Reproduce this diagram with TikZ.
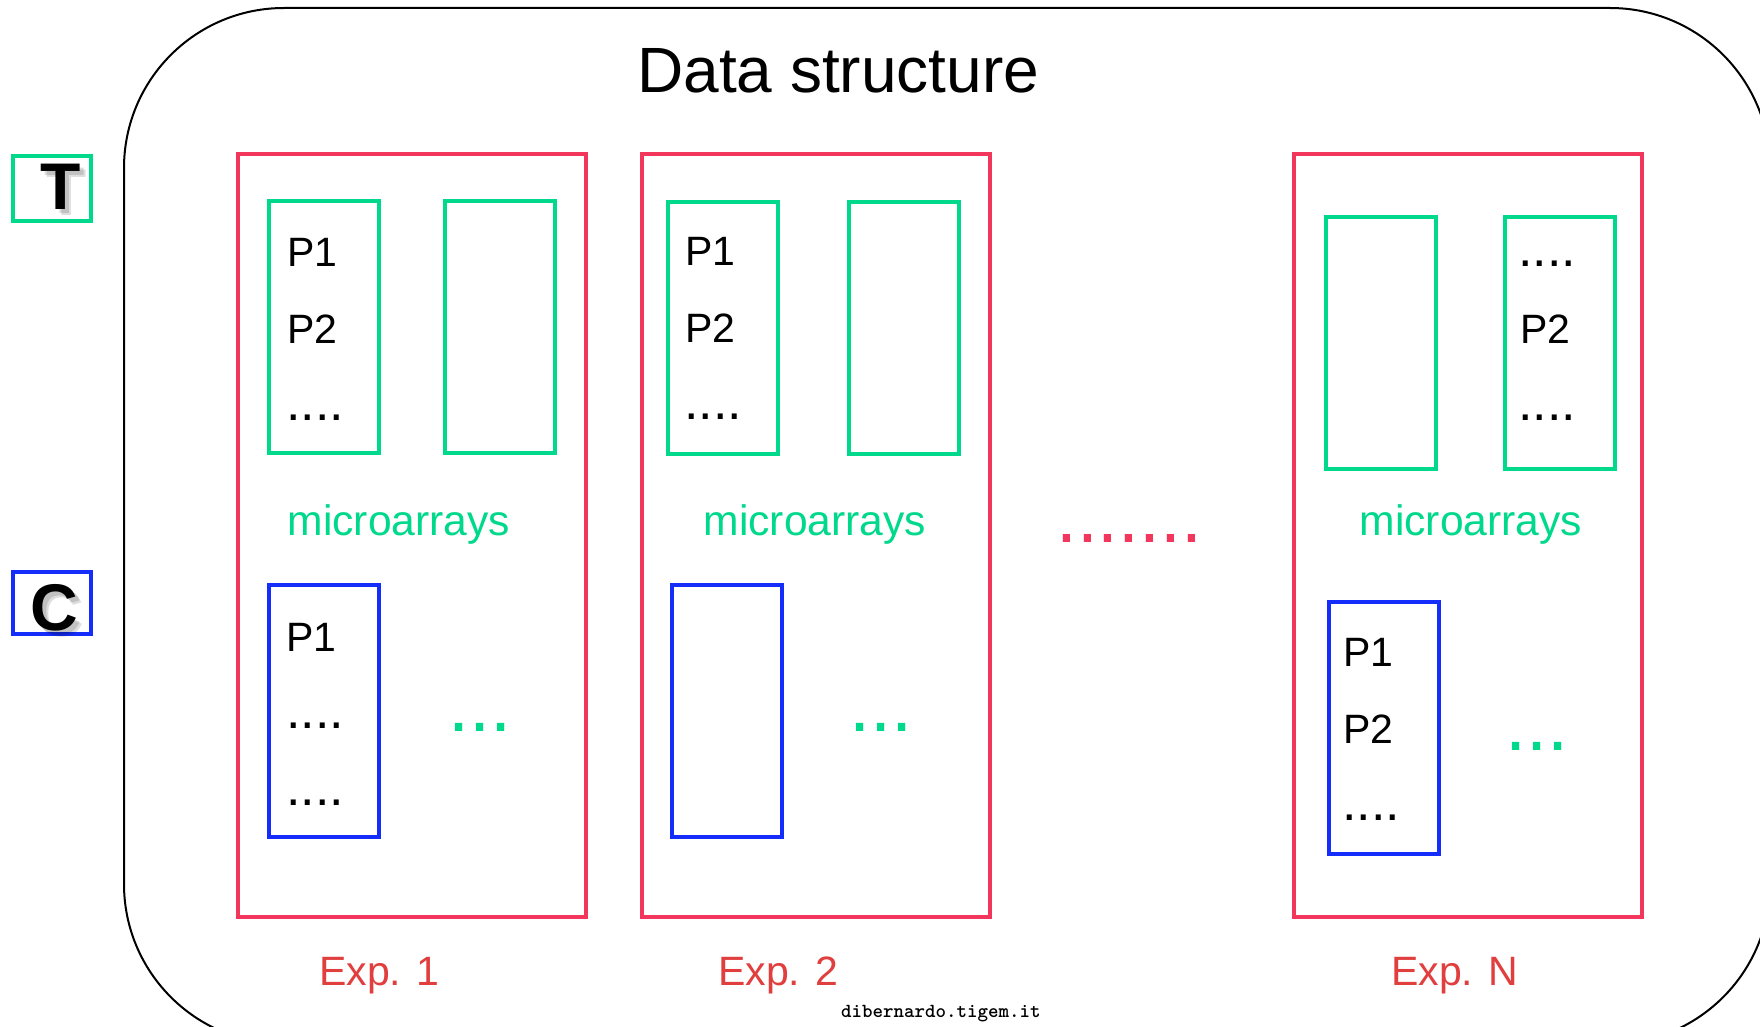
\documentclass[tikz,border=0pt]{standalone}
\usepackage{fontspec}
\setmainfont{Liberation Sans}
\definecolor{mygreen}{RGB}{0,217,139}
\definecolor{myred}{RGB}{242,54,92}
\definecolor{myblue}{RGB}{20,45,250}
\definecolor{expred}{RGB}{225,62,62}
\newcommand{\fsz}[1]{\fontsize{#1}{#1}\selectfont}
\tikzset{
  expbox/.style={draw=myred, line width=4pt, minimum width=348pt, minimum height=763pt, inner sep=0pt},
  tbox/.style={draw=mygreen, line width=4pt, minimum width=110pt, minimum height=252pt, inner sep=0pt},
  cbox/.style={draw=myblue, line width=4pt, minimum width=110pt, minimum height=252pt, inner sep=0pt},
  ptxt/.style={anchor=base west, inner sep=0pt, font=\fsz{41}},
  dtxt/.style={anchor=base west, inner sep=0pt, font=\fsz{52}},
  mtxt/.style={anchor=base west, inner sep=0pt, text=mygreen, font=\fsz{42.6}},
  gdots/.style={anchor=base west, inner sep=0pt, text=mygreen, font=\fsz{76}},
  exptxt/.style={anchor=base west, inner sep=0pt, text=expred, font=\fsz{41}},
  big/.style={anchor=base, inner sep=0pt, font=\bfseries\fsz{66}},
  shadow/.style={big, text=black, opacity=0.13},
}
\begin{document}
\begin{tikzpicture}[x=1pt,y=-1pt]
\path[use as bounding box, clip] (0,0) rectangle (1760,1027);
\fill[white] (0,0) rectangle (1760,1027);
% outer rounded frame
\draw[line width=2pt, rounded corners=160pt] (124,8) rectangle (1770,1044);
% title
\node[anchor=base west, inner sep=0pt, font=\fsz{64}] (title) at (637,93) {Data structure};
% legend boxes
\node[draw=mygreen, line width=4pt, minimum width=78pt, minimum height=65pt, inner sep=0pt] (tleg) at (52,188.5) {};
\node[draw=myblue, line width=4pt, minimum width=78pt, minimum height=62pt, inner sep=0pt] (cleg) at (52,603) {};
\node[shadow] (tsh1) at (64.5,213) {T};
\node[shadow] (tsh2) at (66.5,215) {T};
\node[shadow] (csh1) at (58.5,634) {C};
\node[shadow] (csh2) at (60.5,636) {C};
\node[big] (tl) at (60.5,209) {T};
\node[big] (cl) at (54.5,630) {C};
% experiment boxes
\node[expbox] (e1) at (412,535.5) {};
\node[expbox] (e2) at (815.5,535.5) {};
\node[expbox] (en) at (1468,535.5) {};
% treatment microarrays
\node[tbox] (e1ta) at (324,327) {};
\node[tbox] (e1tb) at (499.5,327) {};
\node[tbox] (e2ta) at (723,328) {};
\node[tbox] (e2tb) at (903.5,328) {};
\node[tbox] (enta) at (1380.5,342.5) {};
\node[tbox] (entb) at (1560,342.5) {};
% control microarrays
\node[cbox] (e1c) at (323.5,711) {};
\node[cbox] (e2c) at (727,711) {};
\node[cbox] (enc) at (1383.5,727.5) {};
% texts exp 1
\node[ptxt] (e1p1) at (287,266) {P1};
\node[ptxt] (e1p2) at (287,343) {P2};
\node[dtxt] (e1d) at (286,420) {....};
\node[mtxt] (e1m) at (287.5,535) {microarrays};
\node[ptxt] (e1cp1) at (286,651) {P1};
\node[dtxt] (e1cd1) at (286,728) {....};
\node[dtxt] (e1cd2) at (286,805) {....};
\node[gdots] (e1g) at (448,731) {...};
\node[exptxt] (e1l) at (319,985) {Exp. 1};
% texts exp 2
\node[ptxt] (e2p1) at (685,265) {P1};
\node[ptxt] (e2p2) at (685,342) {P2};
\node[dtxt] (e2d) at (684,419) {....};
\node[mtxt] (e2m) at (703.5,535) {microarrays};
\node[gdots] (e2g) at (849,731) {...};
\node[exptxt] (e2l) at (718,985) {Exp. 2};
% texts exp N
\node[dtxt] (end1) at (1518,266) {....};
\node[ptxt] (enp2) at (1520,343) {P2};
\node[dtxt] (end2) at (1518,420) {....};
\node[mtxt] (enm) at (1359.5,535) {microarrays};
\node[ptxt] (encp1) at (1343,666) {P1};
\node[ptxt] (encp2) at (1343,743) {P2};
\node[dtxt] (encd) at (1342,820) {....};
\node[gdots] (eng) at (1505,750) {...};
\node[exptxt] (enl) at (1391,985) {Exp. N};
% red dots between experiments
\node[anchor=base west, inner sep=0pt, text=myred, font=\fsz{75}] (mid) at (1056,542) {.......};
% footer
\node[anchor=base west, inner sep=0pt, font=\ttfamily\bfseries\fsz{20}] (foot) at (841,1017) {dibernardo.tigem.it};
\end{tikzpicture}
\end{document}
